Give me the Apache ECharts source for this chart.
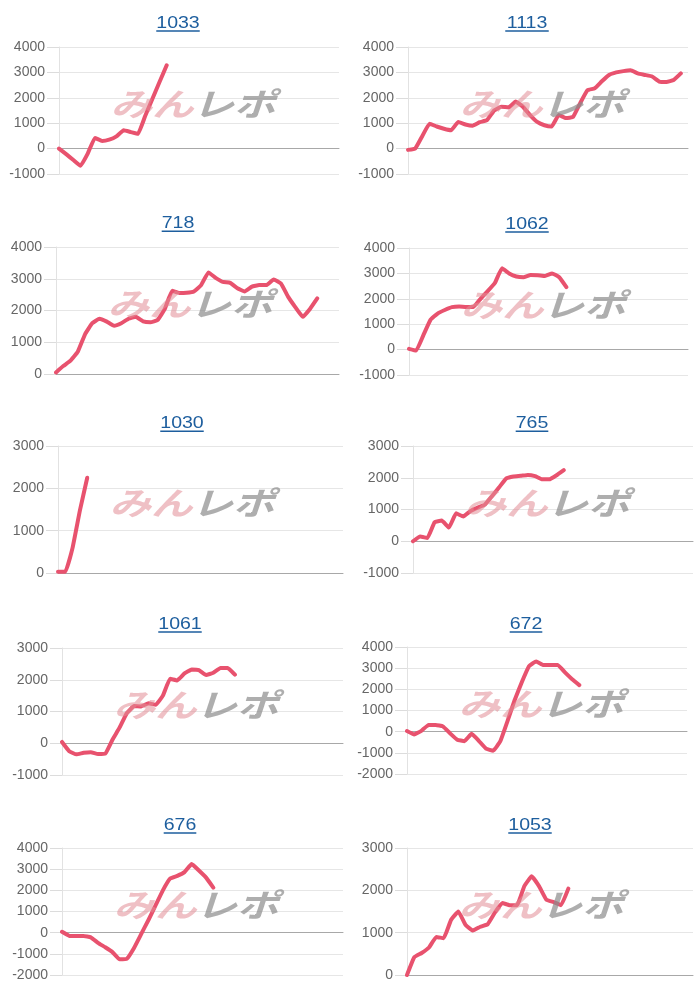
<!DOCTYPE html>
<html>
<head>
<meta charset="utf-8">
<script src="https://cdn.jsdelivr.net/npm/echarts@6/dist/echarts.min.js"></script>
<style>
html,body{margin:0;padding:0;background:#fff;}
#main{width:700px;height:1000px;}
</style>
</head>
<body>
<div id="main"></div>
<script>
// ---- data ----
const titles = ['1033', '1113', '718', '1062', '1030', '765', '1061', '672', '676', '1053'];
const yMin = [-1000, -1000, 0, -1000, 0, -1000, -1000, -2000, -2000, 0];
const yMax = [4000, 4000, 4000, 4000, 3000, 3000, 3000, 4000, 4000, 3000];
const slotCount = 40;

const s1033 = [0, -220, -450, -680, -200, 420, 300, 350, 480, 720, 650, 580, 1280, 1950, 2620, 3280];
const s1113 = [-50, 0, 500, 980, 870, 780, 720, 1050, 950, 900, 1040, 1120, 1500, 1650, 1620, 1850, 1650, 1320, 1050, 920,
  870, 1320, 1200, 1250, 1800, 2300, 2370, 2650, 2900, 3000, 3050, 3080, 2960, 2900, 2840, 2640, 2620, 2700, 2960];
const s718 = [50, 250, 420, 700, 1250, 1600, 1740, 1650, 1520, 1600, 1740, 1800, 1660, 1630, 1700, 2050, 2620, 2550, 2560,
  2600, 2800, 3200, 3030, 2900, 2870, 2700, 2600, 2750, 2800, 2800, 2980, 2850, 2430, 2100, 1800, 2050, 2380];
const s1062 = [30, -40, 560, 1170, 1420, 1560, 1670, 1700, 1680, 1680, 2000, 2300, 2620, 3200, 3000, 2880, 2850, 2940,
  2930, 2900, 3000, 2850, 2460];
const s1030 = [30, 30, 600, 1480, 2250];
const s765 = [0, 150, 100, 600, 650, 430, 880, 780, 950, 1060, 1150, 1420, 1700, 1980, 2040, 2060, 2090, 2050, 1950, 1950,
  2080, 2240];
const s1061 = [40, -250, -350, -300, -280, -340, -330, 110, 500, 950, 1170, 1160, 1260, 1210, 1500, 2030, 1980, 2200, 2320,
  2300, 2150, 2220, 2370, 2370, 2160];
const s672 = [30, -130, 40, 320, 320, 250, -80, -380, -450, -100, -430, -800, -900, -450, 500, 1500, 2350, 3100, 3320,
  3150, 3150, 3150, 2800, 2480, 2200];
const s676 = [40, -150, -160, -160, -220, -480, -690, -920, -1260, -1230, -720, -60, 600, 1300, 2000, 2550, 2680, 2860,
  3240, 2940, 2600, 2130];
const s1053 = [0, 420, 520, 650, 900, 870, 1300, 1500, 1180, 1050, 1140, 1200, 1480, 1700, 1650, 1650, 2100, 2330, 2100,
  1780, 1720, 1650, 2040];
const seriesData = [s1033, s1113, s718, s1062, s1030, s765, s1061, s672, s676, s1053];

// ---- layout (pixels) ----
const plotLeft = [59, 408, 56, 409, 58, 413, 62, 407, 62, 407];
const plotRight = [339, 688, 339, 688, 343, 693, 343, 687, 343, 693];
const plotTop = [47, 47, 247, 248, 446, 446, 648, 647, 848, 848];
const plotBottom = [174, 174, 374, 375, 573, 573, 775, 774, 975, 975];
const titleX = [178, 527, 178, 527, 182, 532, 180, 526, 180, 530];
const titleY = [23.5, 23.5, 223.7, 224.5, 423.7, 423.7, 624.5, 624.5, 825.5, 825.5];

const TITLE_SIZE = 17, TITLE_SCALE = 1.15;
const categories = Array.from({length: slotCount}, (_, i) => String(i));

const grids = [], xAxes = [], yAxes = [], series = [], graphics = [];
titles.forEach((t, i) => {
  grids.push({
    left: plotLeft[i], top: plotTop[i],
    width: plotRight[i] - plotLeft[i], height: plotBottom[i] - plotTop[i],
    containLabel: false
  });
  xAxes.push({
    type: 'category', gridIndex: i, data: categories, boundaryGap: false,
    axisLabel: {show: false}, axisTick: {show: false},
    axisLine: {show: true, onZero: true, lineStyle: {color: '#a8a8a8', width: 1}},
    splitLine: {show: false}
  });
  yAxes.push({
    type: 'value', gridIndex: i, min: yMin[i], max: yMax[i], interval: 1000,
    axisLabel: {color: '#666', fontSize: 14, fontFamily: 'Liberation Sans, Arial, sans-serif', margin: 14,
      formatter: v => String(v)},
    axisTick: {show: true, length: 12, lineStyle: {color: '#dcdcdc'}},
    axisLine: {show: true, lineStyle: {color: '#e2e2e2'}},
    splitLine: {show: true, lineStyle: {color: '#e6e6e6', width: 1}}
  });
  series.push({
    type: 'line', xAxisIndex: i, yAxisIndex: i, data: seriesData[i],
    showSymbol: false, smooth: 0.1, animation: false,
    lineStyle: {color: '#e8526e', width: 4, cap: 'round', join: 'round'},
    itemStyle: {color: '#e8526e'}
  });
  // title (underlined link look)
  const w = t.length * TITLE_SIZE * 0.556 * TITLE_SCALE;
  graphics.push({
    type: 'text', x: titleX[i], y: titleY[i], scaleX: TITLE_SCALE, z: 100,
    style: {text: t, fill: '#1d5e9e', fontSize: TITLE_SIZE, fontFamily: 'Liberation Sans, Arial, sans-serif',
      textAlign: 'center', textVerticalAlign: 'middle'}
  });
  graphics.push({
    type: 'line', z: 100,
    shape: {x1: titleX[i] - w / 2, y1: titleY[i] + 7.5, x2: titleX[i] + w / 2, y2: titleY[i] + 7.5},
    style: {stroke: '#1d5e9e', lineWidth: 1.6}
  });
  // watermark
  const cx = plotLeft[i] + 134, cy = plotTop[i] + 57;
  graphics.push({
    type: 'text', x: cx - 41, y: cy, scaleX: 1.3, z: 50,
    style: {text: 'みん', fill: 'rgba(226,140,150,0.55)', fontSize: 32, fontWeight: 'bold', fontStyle: 'italic',
      fontFamily: 'Noto Sans CJK JP', textAlign: 'center', textVerticalAlign: 'middle'}
  });
  graphics.push({
    type: 'text', x: cx + 41, y: cy, scaleX: 1.3, z: 50,
    style: {text: 'レポ', fill: 'rgba(140,140,140,0.7)', fontSize: 32, fontWeight: 'bold', fontStyle: 'italic',
      fontFamily: 'Noto Sans CJK JP', textAlign: 'center', textVerticalAlign: 'middle'}
  });
});

const chart = echarts.init(document.getElementById('main'), null, {renderer: 'canvas', width: 700, height: 1000});
chart.setOption({
  backgroundColor: '#fff',
  animation: false,
  grid: grids, xAxis: xAxes, yAxis: yAxes, series: series,
  graphic: graphics
});
</script>
</body>
</html>
